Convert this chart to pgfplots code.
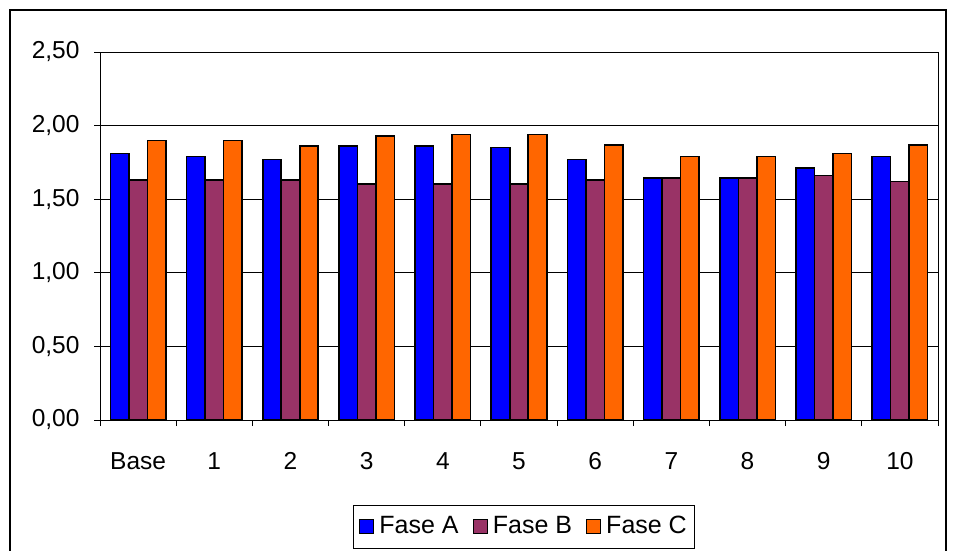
\documentclass[border=0pt]{standalone}
\usepackage{fontspec}
\setmainfont{Liberation Sans}
\usepackage{pgfplots}
\pgfplotsset{compat=1.18}
\definecolor{faseA}{HTML}{0000FF}
\definecolor{faseB}{HTML}{993366}
\definecolor{faseC}{HTML}{FF6600}
\begin{document}
\fontsize{25}{30}\selectfont
\begin{tikzpicture}[x=1pt,y=1pt]
\useasboundingbox (0,0) rectangle (956,550);
\draw[line width=1.5pt] (10,-10) -- (10,540) -- (946,540) -- (946,-10);
\begin{axis}[at={(100pt,130pt)}, anchor=south west, scale only axis,
  width=838pt, height=368pt,
  ybar=0pt, bar width=18.5pt,
  xmin=-0.5, xmax=10.5, ymin=0, ymax=2.5,
  ytick={0,0.5,1,1.5,2,2.5},
  ymajorgrids, grid style={black, line width=1pt},
  axis line style={black, line width=1pt},
  xtick={-0.5,0.5,...,10.5},
  x tick label as interval,
  xticklabels={Base,1,2,3,4,5,6,7,8,9,10},
  tick align=outside, major tick length=6pt,
  tick style={black, line width=1pt},
  xtick pos=bottom, ytick pos=left,
  ticklabel style={font=\fontsize{24.5}{29}\selectfont},
  xticklabel style={yshift=-18pt},
  yticklabel style={xshift=-6pt, /pgf/number format/.cd, fixed, fixed zerofill, precision=2, use comma, assume math mode=true},
  legend columns=3,
  legend style={at={(0.506,-0.23)}, anchor=north, draw=black, line width=1pt,
    font=\fontsize{25}{30}\selectfont, inner ysep=9pt, inner xsep=6pt,
    /tikz/every odd column/.append style={column sep=3pt},
    /tikz/every even column/.append style={column sep=12pt}},
  legend image code/.code={\draw[#1, line width=1.2pt] (0pt,-7pt) rectangle (14pt,7pt);},
]
\addplot[fill=faseA, draw=black, line width=1.6pt] coordinates {(0,1.81) (1,1.79) (2,1.77) (3,1.86) (4,1.86) (5,1.85) (6,1.77) (7,1.645) (8,1.645) (9,1.71) (10,1.79)};
\addplot[fill=faseB, draw=black, line width=1.6pt] coordinates {(0,1.63) (1,1.63) (2,1.63) (3,1.605) (4,1.605) (5,1.605) (6,1.63) (7,1.645) (8,1.645) (9,1.66) (10,1.62)};
\addplot[fill=faseC, draw=black, line width=1.6pt] coordinates {(0,1.90) (1,1.90) (2,1.86) (3,1.93) (4,1.94) (5,1.94) (6,1.87) (7,1.79) (8,1.79) (9,1.81) (10,1.87)};
\legend{Fase A, Fase B, Fase C}
\end{axis}
\end{tikzpicture}
\end{document}
